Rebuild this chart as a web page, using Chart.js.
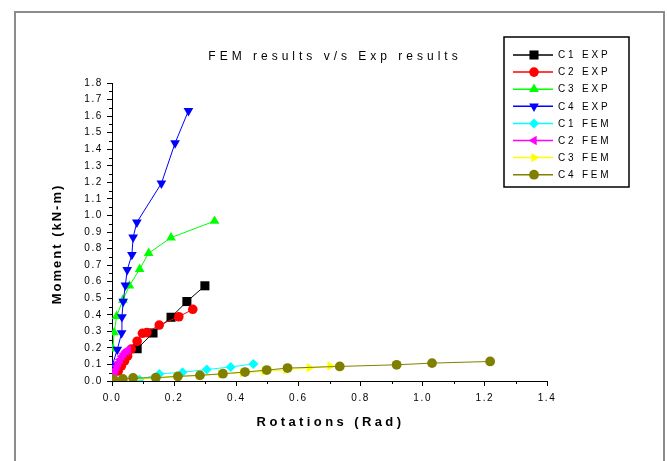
<!DOCTYPE html>
<html>
<head>
<meta charset="utf-8">
<script src="https://cdn.jsdelivr.net/npm/chart.js@4.4.1/dist/chart.umd.min.js"></script>
<style>
html,body{margin:0;padding:0;background:#fff}
</style>
</head>
<body>
<canvas id="myGraph" width="667" height="461"></canvas>
<script>
// rotation (rad) vs moment (kN-m), one [x, y] list per specimen
const seriesNames=['C1 EXP','C2 EXP','C3 EXP','C4 EXP','C1 FEM','C2 FEM','C3 FEM','C4 FEM']
const c1Exp=[[0.081,0.195],[0.132,0.290],[0.190,0.385],[0.241,0.480],[0.299,0.575]]
const c2Exp=[[0.02,0.06],[0.03,0.09],[0.04,0.12],[0.05,0.15],[0.062,0.193],[0.081,0.24],[0.098,0.288],[0.112,0.292],[0.152,0.338],[0.215,0.388],[0.26,0.433]]
const c3Exp=[[0.003,0.195],[0.007,0.293],[0.015,0.392],[0.035,0.49],[0.056,0.575],[0.089,0.676],[0.118,0.772],[0.19,0.866],[0.33,0.966]]
const c4Exp=[[0.002,0.10],[0.017,0.19],[0.031,0.29],[0.032,0.387],[0.036,0.48],[0.043,0.578],[0.049,0.671],[0.064,0.763],[0.068,0.868],[0.08,0.958],[0.159,1.194],[0.203,1.437],[0.246,1.632]]
const c1Fem=[[0.088,0.008],[0.152,0.043],[0.227,0.053],[0.305,0.069],[0.382,0.085],[0.455,0.103]]
const c2Fem=[[0.005,0.03],[0.008,0.05],[0.012,0.07],[0.016,0.09],[0.02,0.11],[0.026,0.13],[0.032,0.15],[0.038,0.165],[0.045,0.18],[0.052,0.19]]
const c3Fem=[[0.0,0.0],[0.07,0.008],[0.14,0.017],[0.21,0.026],[0.28,0.034],[0.35,0.042],[0.42,0.05],[0.49,0.058],[0.56,0.068],[0.635,0.08],[0.702,0.09]]
const c4Fem=[[0.005,0.01],[0.035,0.013],[0.068,0.018],[0.141,0.02],[0.212,0.028],[0.283,0.034],[0.357,0.044],[0.428,0.054],[0.498,0.066],[0.565,0.078],[0.733,0.088],[0.916,0.098],[1.03,0.108],[1.217,0.118]]
const allSeries=[c1Exp,c2Exp,c3Exp,c4Exp,c1Fem,c2Fem,c3Fem,c4Fem]

const xMinorTicks=[0.1,0.3,0.5,0.7,0.9,1.1,1.3]
const yMinorTicks=[0.05,0.15,0.25,0.35,0.45,0.55,0.65,0.75,0.85,0.95,1.05,1.15,1.25,1.35,1.45,1.55,1.65,1.75]

const chartTitle='FEM results v/s Exp results'
const xTitle='Rotations (Rad)'
const yTitle='Moment (kN-m)'

const colors=['#000000','#ff0000','#00ff00','#0000ff','#00ffff','#ff00ff','#ffff00','#808000']
const shapes=['rect','circle','triangle','triangle','rectRot','triangle','triangle','circle']
const turns=[0,0,0,180,0,-90,90,0]
const sizes=[6.4,4.8,5.6,5.6,5,5.4,5.4,4.9]

const font='"Liberation Sans", Arial, sans-serif'

// spaced-out lettering for tick labels, set before layout measures text
const spacing={
  id:'spacing',
  beforeUpdate(chart){chart.ctx.letterSpacing='1.6px'},
  beforeDraw(chart){
    const ctx=chart.ctx
    ctx.letterSpacing='1.6px'
    ctx.save()
    ctx.fillStyle='#fff'
    ctx.fillRect(0,0,chart.width,chart.height)
    ctx.strokeStyle='#8c8c8c'
    ctx.lineWidth=2
    ctx.strokeRect(15,12,649,520)
    ctx.restore()
  }
}

// chart title and the two axis titles, each with its own letter spacing
const titles={
  id:'titles',
  afterDraw(chart){
    const ctx=chart.ctx
    const area=chart.chartArea
    ctx.save()
    ctx.fillStyle='#000'
    ctx.textAlign='center'
    ctx.textBaseline='middle'
    ctx.font='12px '+font
    ctx.letterSpacing='4px'
    ctx.fillText(chartTitle,335,57)
    ctx.font='bold 13px '+font
    ctx.letterSpacing='3.4px'
    ctx.fillText(xTitle,(area.left+area.right)/2+1,422)
    ctx.translate(57,244)
    ctx.rotate(-Math.PI/2)
    ctx.letterSpacing='2px'
    ctx.fillText(yTitle,0,0)
    ctx.restore()
  }
}

const minorTicks={
  id:'minorTicks',
  afterDraw(chart){
    const {ctx,chartArea}=chart
    const x=chart.scales.x, y=chart.scales.y
    ctx.save()
    ctx.strokeStyle='#000'
    ctx.lineWidth=1
    ctx.beginPath()
    xMinorTicks.forEach(v=>{
      const px=Math.round(x.getPixelForValue(v))+0.5
      ctx.moveTo(px,chartArea.bottom)
      ctx.lineTo(px,chartArea.bottom+3)
    })
    yMinorTicks.forEach(v=>{
      const py=Math.round(y.getPixelForValue(v))+0.5
      ctx.moveTo(chartArea.left,py)
      ctx.lineTo(chartArea.left-3,py)
    })
    ctx.stroke()
    ctx.restore()
  }
}

// framed legend with a line segment and marker per series
const boxLegend={
  id:'boxLegend',
  afterDraw(chart){
    const ctx=chart.ctx
    ctx.save()
    ctx.fillStyle='#fff'
    ctx.fillRect(504,37,125,150)
    ctx.strokeStyle='#000'
    ctx.lineWidth=1.5
    ctx.strokeRect(504,37,125,150)
    ctx.font='10px '+font
    ctx.letterSpacing='2.8px'
    ctx.textBaseline='middle'
    chart.data.datasets.forEach((ds,i)=>{
      const yy=55+i*17.1
      ctx.strokeStyle=ds.borderColor
      ctx.lineWidth=1.5
      ctx.beginPath()
      ctx.moveTo(513,yy)
      ctx.lineTo(553,yy)
      ctx.stroke()
      ctx.fillStyle=ds.pointBackgroundColor
      Chart.helpers.drawPoint(ctx,{pointStyle:ds.pointStyle,rotation:ds.pointRotation,radius:ds.pointRadius,borderWidth:0},534,yy)
      ctx.fillStyle='#000'
      ctx.fillText(ds.label,558,yy+0.5)
    })
    ctx.restore()
  }
}

const datasets=allSeries.map((pts,i)=>({
  label:seriesNames[i],
  data:pts.map(p=>({x:p[0],y:p[1]})),
  borderColor:colors[i],
  backgroundColor:colors[i],
  pointBackgroundColor:colors[i],
  pointBorderColor:colors[i],
  pointBorderWidth:0,
  pointStyle:shapes[i],
  pointRotation:turns[i],
  pointRadius:sizes[i],
  borderWidth:1,
  showLine:true,
  tension:0,
  order:-i
}))

const myGraph=document.getElementById('myGraph').getContext('2d')
const chart=new Chart(myGraph,{
  type:'scatter',
  data:{datasets},
  plugins:[spacing,titles,minorTicks,boxLegend],
  options:{
    responsive:false,
    animation:false,
    events:[],
    layout:{padding:{left:46,right:120,top:83,bottom:28}},
    plugins:{
      legend:{display:false},
      tooltip:{enabled:false},
      title:{display:false}
    },
    scales:{
      x:{
        type:'linear',
        min:0,max:1.4,
        afterFit(s){s.height=52},
        grid:{display:true,drawOnChartArea:false,tickLength:5,color:'#000'},
        border:{display:true,color:'#000',width:1},
        ticks:{stepSize:0.2,color:'#000',padding:6,font:{family:font,size:10},
          callback:v=>v.toFixed(1)},
        title:{display:false}
      },
      y:{
        type:'linear',
        min:0,max:1.8,
        afterFit(s){s.width=66},
        grid:{display:true,drawOnChartArea:false,tickLength:5,color:'#000'},
        border:{display:true,color:'#000',width:1},
        ticks:{stepSize:0.1,color:'#000',padding:4,font:{family:font,size:10},
          callback:v=>v.toFixed(1)},
        title:{display:false}
      }
    }
  }
})
</script>
</body>
</html>
